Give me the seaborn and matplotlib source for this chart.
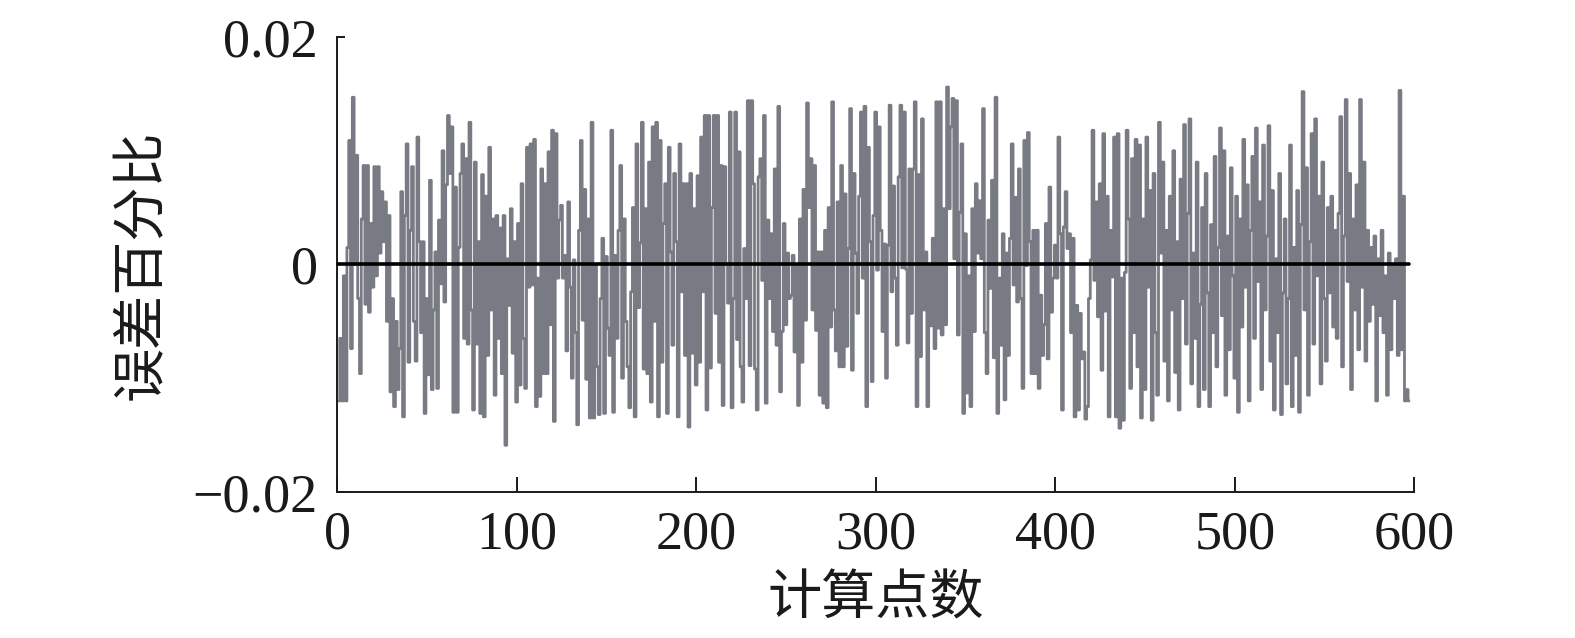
import numpy as np
import pandas as pd
import seaborn as sns
import matplotlib
matplotlib.use("Agg")
import matplotlib.pyplot as plt

# error values, in units of 1e-3, read left to right off the chart
seg_a = [-12, -12, -6.5, -12, -1, -12, 1.5, 10.9, -7.4, 14.7, 0, 9.6, -3, -9.6, 4, 8.7, -3.5, 8.7, -4.2, 3.6,
         -2, 8.6, -1, 8.6, 1, 6.4, 2, 5.5, -5, 4.3, -11.2, -3, -12.5, -5, -11, -7.4, 6.4, -13.4, 4.3, 10.6,
         -8.6, 3, 8.6, -5, -8.5, 11.2, 2, -6, 2.0, -13.1, -3, -9.7, 7.4, -11, -4]
seg_b = [1.1, -10.9, 3.9, -1.7, 10, -3.3, 7, 13.1, 8, 12.1, -13, 6.8, -13, 1.5, 8, 10.6, -6.5, 9.3, -7, 12.5,
         -4, -12.8, 9, -7, 2, -13.1, 7.9, -13.4, 6, -8, 10.3, -4, 4, -11.5, 4.3, -6.5, 3.2, -9.6, 4.3, -15.9,
         0.5, -3.6, 4.9, -7.8, 2, -12.1, 3.6, -10.6, 7.1, -6.5, -10.9, 10.3, -2, 10.6, -1.8, 11]
seg_c = [-12.5, -1.2, -11.6, 8.4, -9.6, 7.1, -9.6, 9.9, -5.3, 11.8, -13.8, 11.5, -1.2, 3.9, 5.2, -1.2, 0.8, -7.6,
         5.5, -2, -10.0, 0.4, -6, -14.1, 3, 10.9, -4.9, 6.6, -10.1, 4, -13.5, 12.5, -13.5, 0, -9, -13.2, -3, 2.3,
         -13.1, 0.7, -5.6, -8, 11.8, -13.0, 0.8, -6.5, 3, 8.7, -10.0, 4, -5, -9, -12.6, -2.4, 5]
seg_d = [-13.4, 10.6, -3.8, 1.9, 12.5, -9.2, 4.9, -9.6, 9, -12.1, 12.1, -5, 12.5, -13.4, 10.9, -8.6, 3.6, 7.1,
         -13.1, 10.3, 1.1, -7.1, 8, 2, -13.4, 10.6, -2.4, 7.1, -8, 7.1, -14.3, 8, -7.8, 4.9, -10.6, 7.8, -8.6,
         11.2, -2.4, 13.1, -12.8, 13.1, -9.1, 5, 13.1, -4.3, 13.1, -8.6, 8.7, -12.4, 8.6, 0, -3.4, 13.4, -12.6, -3]
seg_e = [13.4, -6.6, 9.9, -9, -12.1, 1.4, -3, 14.4, -8.9, 14.4, 7.1, -9.2, -12.8, 7.7, 9.3, -1.4, 13.1, -12.2,
         3.9, -3.0, 2.7, -5.9, 8.4, -7.1, 13.9, -11.2, -5.9, 3.6, -5.3, 1, -3, -2.7, 0.8, -7.7, 0, -12.4, 4, -8.6,
         6.6, -4.9, 14.2, 5, 9.3, -4, 8.7, -5.8, 1.1, -11.5, 1.1, -12.2, 3, -12.6, 5, -5.5, 14.3, -4]
seg_f = [-7.6, 5.5, -9, 8.7, -9.0, 6.2, -7.2, 1.4, 13.7, -9.3, 8.0, 1, -4.3, 6, 13.4, -1.2, 13.9, -12.5, 10.3,
         2, -10.3, 4.3, 13.4, -0.5, 12.1, 3, -5.9, 1.8, -10.0, 1.7, 14, -2.4, 6.9, -1.2, -7.1, 7.7, 14, -0.3,
         13.4, -0.4, -6.9, 8.4, -4.3, 8.4, 14.3, -12.5, 7.9, -8.1, 12.8, -4, 1.1, -12.5, 0, -5.4, 2.3, -7.4]
seg_g = [14.3, -5.6, 14.3, -6.2, 4.9, -5.3, 15.6, 4.9, 12.1, 14.6, 0.5, 14.4, -6.2, 4.6, 10.6, -13.1, 2.7, -11.3,
         -1, -12.5, 4.9, -5.9, 7.1, 1.0, 5.6, 0.5, 13.7, -6, -9.6, 3.9, -2.1, 7.4, -8.2, 14.7, -13.1, -1.2, -7.1,
         2.7, -11.9, 1, -8.0, 2.3, 10.6, -1.8, 5.9, -3.3, 8.4, -3, -10.9, 10.9, -0.1, 11.6, 2, -9.6, 3]
seg_h = [-9.6, 3.0, -10.9, -2.7, -8.0, -5.3, 3.6, -8.3, 6.8, -4.2, -1.2, 1.7, -1.2, 11.2, 2.7, -12.8, 3.3, 6.4,
         1.4, 2.7, -6, 2.3, -13.4, -3.6, -12.8, -4.3, -8.3, -7.7, -13.6, -12.5, -3, 0.4, 11.8, -1.4, 5.5, -4.6,
         7.1, -9.3, 11.5, -4.1, 6, -13.4, 3, -1.1, 11.2, -13.4, 11.5, -14.4, -1.2, -13.7, -0.7, 11.8, 4, -10.9,
         9.3, -6]
seg_i = [11.0, -9.0, 10.5, -13.5, 4.0, -11.0, 11.2, -2.0, 6.5, -13.7, 8.0, -6.0, -11.5, 12.5, 1.0, 9.0, -8.5,
         3.0, -12.0, 6.0, -4.0, 10.0, -9.5, 2.0, -12.8, 7.5, -3.0, 12.3, -7.0, 4.5, 12.8, -10.5, 1.0, -6.5, 9.0,
         -12.5, -3.5, 5.0, -11.0, 8.0, -2.5, -12.5, 3.5, -6.0, 9.5, -9.0, 1.5, 12.0, -4.5, 10.0, -11.5, 2.5, -7.5,
         8.5, -1.0, -10.0, 6.0, -13.0, 4.0, -5.5, 11.0, -2.0, 7.0, -12.0, 3.0, 9.5, -6.5, 12.0, -1.5, 5.5, -11.0,
         10.5, -4.0, 2.5, 12.2, -8.5, 6.5, -12.8, 0.5, -6.0, 8.0, -13.2, -2.5, 4.0, -10.5, -3.0, 10.5, -12.5, 1.5,
         -8.0, 6.5, -13.0, 3.5, 15.2, -4.0, 8.5, -11.5, 2.0, 11.5, -7.0, 12.8, -1.0, 6.0, -10.5, 9.0, -3.0, -8.5,
         5.0, -2.5, 6.0, -5.5, 3.0, -6.5, 4.5, 13.0, -9.0, 2.5, 14.5, -1.5, 8.0, -11.0, 4.0, -4.0, 7.0, -7.5, 14.5,
         -2.0, 9.0, -8.5, 3.0, -5.0, 1.5, -3.5, 2.5, -12.0, 0.5, -4.5, 3.0, -6.0, -1.0, -11.5, 1.0, -7.5, 0.0,
         -3.0, 0.5, -8.0, 15.3, -7.5, 6.0, -12.0, -11.0, -12.0]

err = np.array(seg_a + seg_b + seg_c + seg_d + seg_e + seg_f + seg_g + seg_h + seg_i) * 1e-3
df = pd.DataFrame({"pt": np.arange(len(err)), "err": err})

x_ticks = [0, 100, 200, 300, 400, 500, 600]
y_ticks = [-0.02, 0, 0.02]
y_labels = ["\u22120.02", "0", "0.02"]

sns.set_style("ticks")
plt.rcParams["font.family"] = ["Liberation Serif", "DejaVu Serif"]

fig = plt.figure(figsize=(15.75, 6.38), dpi=100)
ax = fig.add_axes([0.214, 0.229, 0.684, 0.713])

sns.lineplot(data=df, x="pt", y="err", ax=ax, color="#787b83", linewidth=2.0,
             drawstyle="steps-mid", errorbar=None)
ax.plot([0, len(err) - 1], [0, 0], color="black", linewidth=2.6, zorder=5)

ax.set_xlim(0, 600)
ax.set_ylim(-0.02, 0.02)
ax.set_xticks(x_ticks)
ax.set_yticks(y_ticks, labels=y_labels)

for side in ["top", "right"]:
    ax.spines[side].set_visible(False)
for side in ["left", "bottom"]:
    ax.spines[side].set_linewidth(1.4)
    ax.spines[side].set_color("#1a1a1a")

ax.tick_params(axis="x", direction="in", length=11, width=1.4, pad=13, labelsize=39, colors="#1a1a1a")
ax.tick_params(axis="y", direction="in", length=6, width=1.4, pad=14, labelsize=39, colors="#1a1a1a")

cjk = ["Noto Sans CJK SC", "DejaVu Sans"]
ax.set_xlabel("计算点数", family=cjk, fontsize=39, fontweight="light", color="#1a1a1a", va="center")
ax.set_ylabel("误差百分比", family=cjk, fontsize=39, fontweight="light", color="#1a1a1a", va="center")
ax.xaxis.set_label_coords(0.5, -0.235)
ax.yaxis.set_label_coords(-0.182, 0.5)

fig.savefig("out.png", dpi=100)
